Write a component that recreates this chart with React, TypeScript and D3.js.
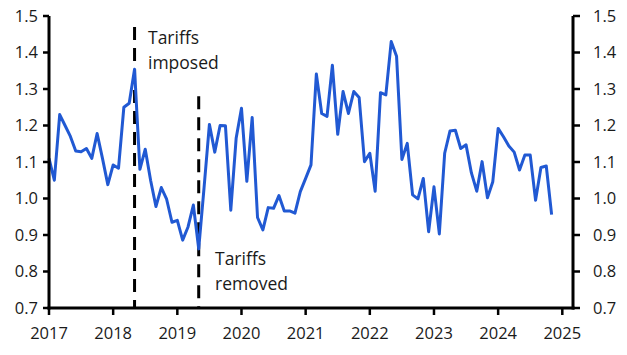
import React from "react";
import * as d3 from "d3";

// Monthly values, Jan 2017 .. Nov 2024
const values: number[] = [
  1.11, 1.05, 1.23, 1.2, 1.17, 1.13, 1.128, 1.137, 1.11, 1.178, 1.11, 1.038,
  1.092, 1.083, 1.25, 1.261, 1.354, 1.08, 1.135, 1.05, 0.978, 1.03, 0.998, 0.935,
  0.94, 0.886, 0.922, 0.982, 0.862, 1.03, 1.203, 1.127, 1.2, 1.199, 0.968, 1.165,
  1.247, 1.047, 1.222, 0.948, 0.914, 0.975, 0.973, 1.008, 0.966, 0.966, 0.96, 1.019,
  1.055, 1.092, 1.341, 1.233, 1.225, 1.365, 1.176, 1.293, 1.233, 1.293, 1.277, 1.101,
  1.124, 1.02, 1.29, 1.284, 1.43, 1.39, 1.107, 1.151, 1.01, 0.999, 1.055, 0.909,
  1.032, 0.903, 1.124, 1.185, 1.187, 1.137, 1.147, 1.07, 1.02, 1.101, 1.002, 1.046,
  1.192, 1.169, 1.144, 1.127, 1.078, 1.119, 1.119, 0.995, 1.085, 1.089, 0.956,
];
const startYear = 2017;
const yearTicks: number[] = [2017, 2018, 2019, 2020, 2021, 2022, 2023, 2024, 2025];
const yTicks: number[] = [0.7, 0.8, 0.9, 1.0, 1.1, 1.2, 1.3, 1.4, 1.5];
const events = [
  { month: 16, top: 1.47, lines: ["Tariffs", "imposed"] },
  { month: 28, top: 1.28, lines: ["Tariffs", "removed"] },
];

const W = 627;
const H = 355;
const left = 49;
const right = 573;
const top = 16;
const bottom = 308;

export default function App() {
  const x = d3.scaleLinear().domain([0, 98]).range([left, right]);
  const y = d3.scaleLinear().domain([0.7, 1.5]).range([bottom, top]);
  const line = d3
    .line<number>()
    .x((_, i) => x(i))
    .y((d) => y(d));
  const font = "'Open Sans', sans-serif";
  const blue = "#2159d3";
  return (
    <svg
      width={W}
      height={H}
      style={{ position: "absolute", left: 0, top: 0, background: "#fff" }}
    >
      {/* event dashed lines */}
      {events.map((e, i) => (
        <g key={i}>
          <line
            x1={x(e.month)}
            x2={x(e.month)}
            y1={y(e.top)}
            y2={bottom}
            stroke="#000"
            strokeWidth={3}
            strokeDasharray="13,8"
          />
        </g>
      ))}
      <text fontFamily={font} fontSize={17.5} fill="#1a1a1a">
        <tspan x={148} y={44}>{events[0].lines[0]}</tspan>
        <tspan x={148} y={69}>{events[0].lines[1]}</tspan>
      </text>
      <text fontFamily={font} fontSize={17.5} fill="#1a1a1a">
        <tspan x={215} y={265}>{events[1].lines[0]}</tspan>
        <tspan x={215} y={290}>{events[1].lines[1]}</tspan>
      </text>
      {/* data line */}
      <path
        d={line(values) || ""}
        fill="none"
        stroke={blue}
        strokeWidth={3}
        strokeLinejoin="round"
      />
      {/* axes */}
      <line x1={left} x2={left} y1={top} y2={bottom + 1.5} stroke="#000" strokeWidth={3} />
      <line x1={right} x2={right} y1={top} y2={bottom + 1.5} stroke="#000" strokeWidth={3} />
      <line x1={left - 1.5} x2={right + 1.5} y1={bottom} y2={bottom} stroke="#000" strokeWidth={3} />
      {yTicks.map((t) => (
        <g key={t}>
          <line x1={left - 6} x2={left} y1={y(t)} y2={y(t)} stroke="#000" strokeWidth={2.5} />
          <line x1={right} x2={right + 7} y1={y(t)} y2={y(t)} stroke="#000" strokeWidth={2.5} />
          <text
            x={38}
            y={y(t)}
            dy="0.35em"
            textAnchor="end"
            fontFamily={font}
            fontSize={16.5}
            fill="#1a1a1a"
          >
            {t.toFixed(1)}
          </text>
          <text
            x={593}
            y={y(t)}
            dy="0.35em"
            textAnchor="start"
            fontFamily={font}
            fontSize={16.5}
            fill="#1a1a1a"
          >
            {t.toFixed(1)}
          </text>
        </g>
      ))}
      {yearTicks.map((yr) => {
        const xx = x((yr - startYear) * 12);
        return (
          <g key={yr}>
            <line x1={xx} x2={xx} y1={bottom} y2={bottom + 7} stroke="#000" strokeWidth={2.5} />
            <text
              x={xx}
              y={339}
              textAnchor="middle"
              fontFamily={font}
              fontSize={16.5}
              fill="#1a1a1a"
            >
              {yr}
            </text>
          </g>
        );
      })}
    </svg>
  );
}
